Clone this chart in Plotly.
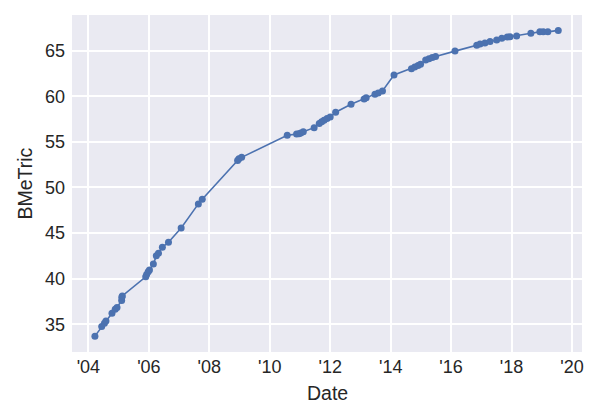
import plotly.graph_objects as go

dates = [
    "2004-03-20", "2004-06-10", "2004-07-13", "2004-07-31", "2004-10-12",
    "2004-11-20", "2004-12-12", "2005-02-06", "2005-02-08", "2005-02-14",
    "2005-11-24", "2005-12-05", "2005-12-24", "2006-01-08", "2006-02-24",
    "2006-04-01", "2006-04-27", "2006-06-13", "2006-08-26", "2007-01-26",
    "2007-08-22", "2007-10-08", "2008-12-08", "2008-12-24", "2009-01-26",
    "2010-07-31", "2010-11-21", "2010-12-20", "2011-01-11", "2011-02-10",
    "2011-06-21", "2011-08-22", "2011-09-20", "2011-10-19", "2011-11-24",
    "2012-01-01", "2012-03-07", "2012-09-09", "2013-02-14", "2013-03-11",
    "2013-06-25", "2013-08-04", "2013-09-24", "2014-02-10", "2014-09-09",
    "2014-10-19", "2014-11-28", "2014-12-28", "2015-02-28", "2015-04-09",
    "2015-05-19", "2015-06-28", "2016-02-17", "2016-11-06", "2016-12-16",
    "2017-02-13", "2017-04-16", "2017-07-05", "2017-09-05", "2017-11-10",
    "2017-12-13", "2018-03-03", "2018-08-22", "2018-12-09", "2019-01-19",
    "2019-03-15", "2019-07-19",
]
bmetric = [
    33.70, 34.75, 35.10, 35.35, 36.20,
    36.65, 36.85, 37.60, 37.95, 38.10,
    40.20, 40.45, 40.75, 40.95, 41.60,
    42.50, 42.80, 43.45, 44.00, 45.55,
    48.20, 48.70, 52.95, 53.15, 53.30,
    55.72, 55.85, 55.90, 55.98, 56.10,
    56.56, 57.00, 57.20, 57.38, 57.55,
    57.72, 58.25, 59.12, 59.70, 59.85,
    60.22, 60.35, 60.58, 62.34, 63.03,
    63.20, 63.38, 63.52, 63.98, 64.12,
    64.24, 64.35, 64.95, 65.60, 65.72,
    65.84, 66.00, 66.17, 66.36, 66.50,
    66.52, 66.62, 66.90, 67.06, 67.08,
    67.06, 67.22,
]
y_ticks = [35, 40, 45, 50, 55, 60, 65]

blue = "#4C72B0"
txt = "#262626"

fig = go.Figure()
fig.add_trace(
    go.Scatter(
        x=dates,
        y=bmetric,
        mode="lines+markers",
        line=dict(color=blue, width=1.6),
        marker=dict(color=blue, size=7),
        showlegend=False,
    )
)

# axis titles as annotations so they sit where the reference has them
fig.add_annotation(text="Date", x=0.5, y=-0.122, xref="paper", yref="paper",
                   xanchor="center", yanchor="middle", showarrow=False,
                   font=dict(size=19.5))
fig.add_annotation(text="BMeTric", x=-0.094, y=0.5, xref="paper", yref="paper",
                   xanchor="center", yanchor="middle", textangle=-90,
                   showarrow=False, font=dict(size=19.5))

fig.update_layout(
    width=600,
    height=420,
    paper_bgcolor="white",
    plot_bgcolor="#EAEAF2",
    margin=dict(l=72, r=18, t=15, b=68),
    font=dict(family="Liberation Sans, Arial, sans-serif", size=18, color=txt),
    xaxis=dict(
        type="date",
        range=["2003-06-17", "2020-05-01"],
        tick0="2004-01-01",
        dtick="M24",
        tickformat="'%y",
        showgrid=True,
        gridcolor="white",
        gridwidth=1.6,
        zeroline=False,
        showline=False,
        ticks="",
        automargin=False,
        ticklabelstandoff=2,
    ),
    yaxis=dict(
        range=[31.96, 68.91],
        tickvals=y_ticks,
        showgrid=True,
        gridcolor="white",
        gridwidth=1.6,
        zeroline=False,
        showline=False,
        ticks="",
        automargin=False,
        ticklabelstandoff=6,
    ),
)

# page body has a default 8px margin; drop it so the figure sits at 0,0
fig.write_html("out.html", config={"displayModeBar": False},
               post_script="document.body.style.margin='0px';")
